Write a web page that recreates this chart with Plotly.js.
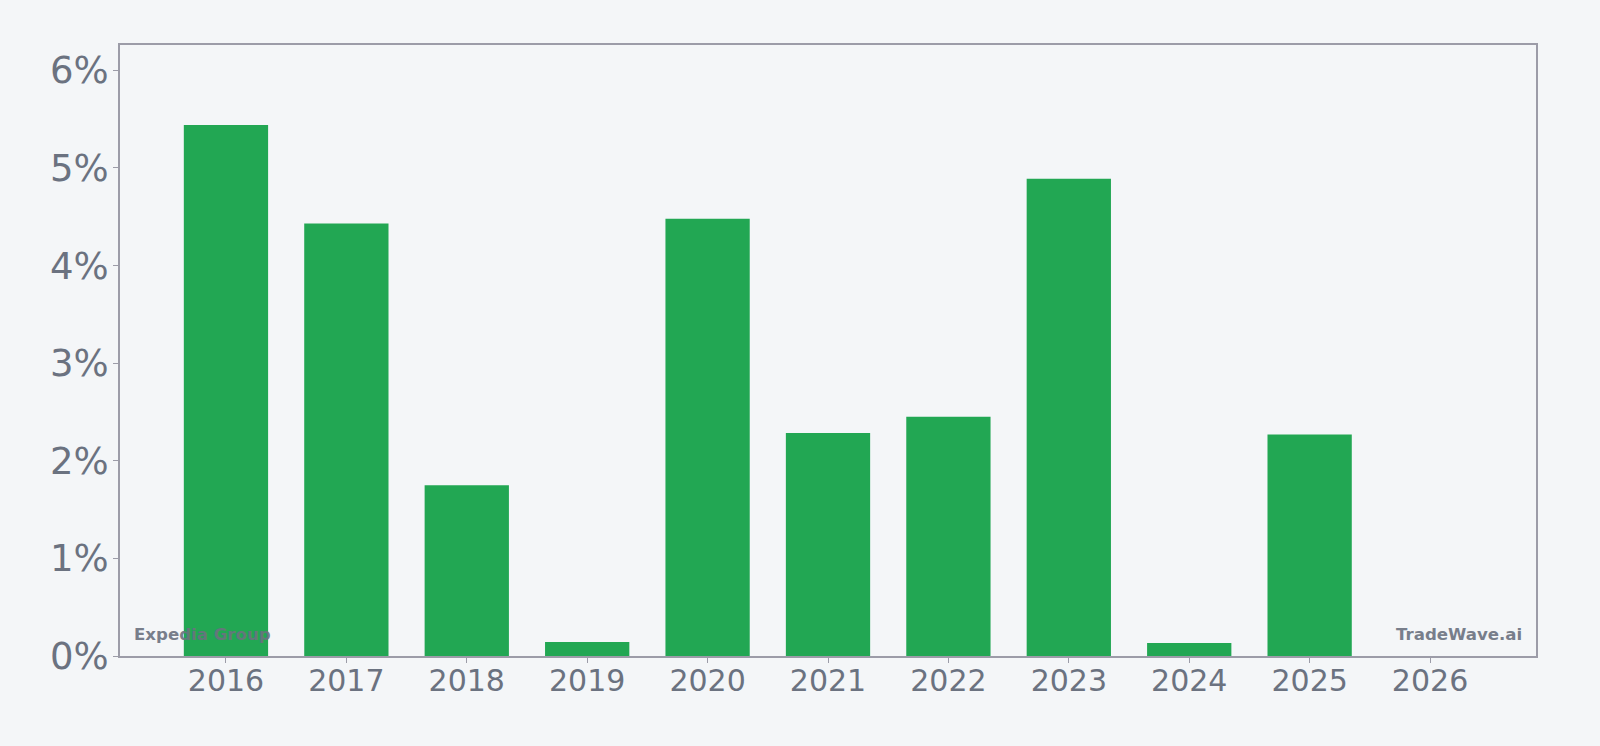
<!DOCTYPE html>
<html>
<head>
<meta charset="utf-8">
<script src="https://cdn.plot.ly/plotly-3.0.1.min.js"></script>
<style>
html,body{margin:0;padding:0;background:#f4f6f8;}
#chart{width:1600px;height:746px;}
</style>
</head>
<body>
<div id="chart"></div>
<script>
const years = [2016, 2017, 2018, 2019, 2020, 2021, 2022, 2023, 2024, 2025, 2026];
const values = [5.44, 4.43, 1.75, 0.143, 4.48, 2.285, 2.45, 4.89, 0.133, 2.27, null];
const yTickVals = [0, 1, 2, 3, 4, 5, 6];
const yTickText = ["0%", "1%", "2%", "3%", "4%", "5%", "6%"];
const companyLabel = "Expedia Group";
const brandLabel = "TradeWave.ai";

const trace = {
  type: "bar",
  x: years,
  y: values,
  width: 0.7,
  marker: {color: "#22a753"},
  hoverinfo: "skip"
};

const layout = {
  width: 1600,
  height: 746,
  paper_bgcolor: "#f4f6f8",
  plot_bgcolor: "#f4f6f8",
  margin: {l: 120, r: 64, t: 45, b: 90},
  showlegend: false,
  font: {family: "DejaVu Sans", color: "#6b7280"},
  xaxis: {
    range: [2015.12, 2026.88],
    tickvals: years,
    ticktext: years.map(String),
    tickfont: {size: 30, color: "#6b7280", family: "DejaVu Sans"},
    showgrid: false,
    zeroline: false,
    showline: true,
    linecolor: "#9c9ca8",
    linewidth: 2,
    mirror: true,
    ticks: "outside",
    ticklen: 5,
    tickcolor: "#9c9ca8",
    tickwidth: 1,
    ticklabelstandoff: -8
  },
  yaxis: {
    range: [0, 6.26],
    tickvals: yTickVals,
    ticktext: yTickText,
    tickfont: {size: 37, color: "#6b7280", family: "DejaVu Sans"},
    showgrid: false,
    zeroline: false,
    showline: true,
    linecolor: "#9c9ca8",
    linewidth: 2,
    mirror: true,
    ticks: "outside",
    ticklen: 5,
    tickcolor: "#9c9ca8",
    tickwidth: 1,
    ticklabelstandoff: -3
  },
  annotations: [
    {
      text: "<b>" + companyLabel + "</b>",
      xref: "paper", yref: "paper",
      x: 0.0085, y: 0.035,
      xanchor: "left", yanchor: "middle",
      showarrow: false,
      font: {family: "DejaVu Sans", size: 16.6, color: "#6b7280"},
      opacity: 0.9
    },
    {
      text: "<b>" + brandLabel + "</b>",
      xref: "paper", yref: "paper",
      x: 0.9915, y: 0.035,
      xanchor: "right", yanchor: "middle",
      showarrow: false,
      font: {family: "DejaVu Sans", size: 16.6, color: "#6b7280"},
      opacity: 0.9
    }
  ]
};

Plotly.newPlot("chart", [trace], layout, {displayModeBar: false, staticPlot: true});
</script>
</body>
</html>
